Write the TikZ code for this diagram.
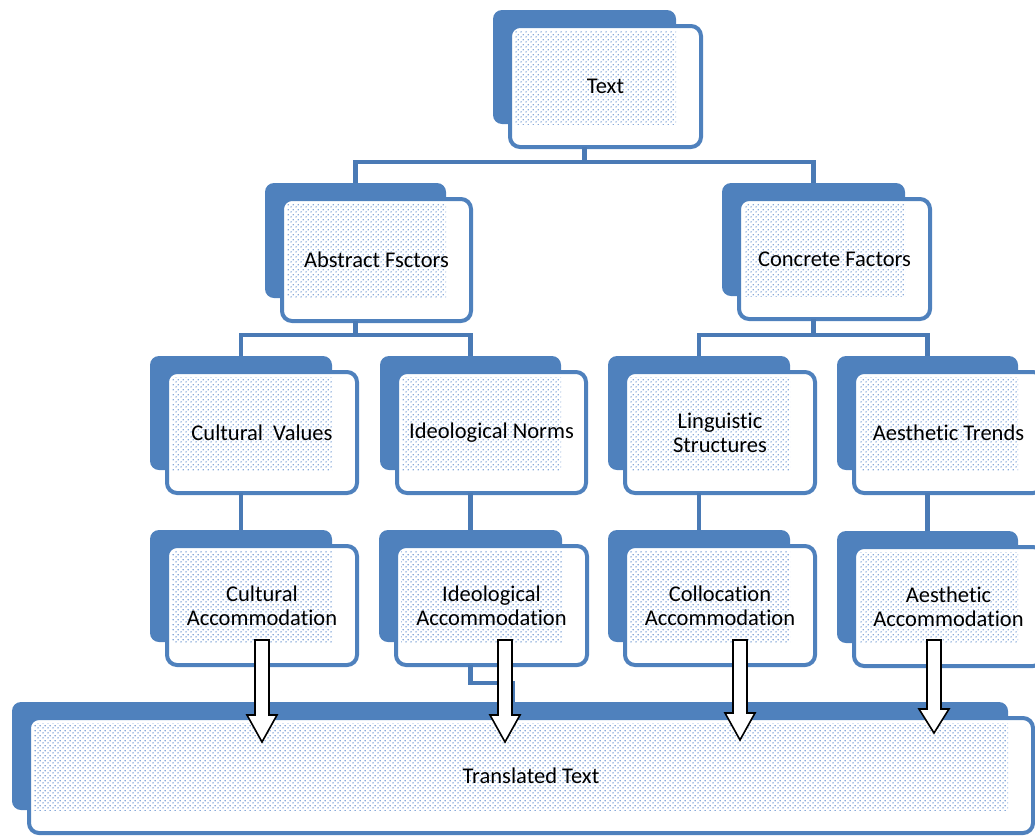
\documentclass[tikz,border=0pt]{standalone}
\usepackage{fontspec}
\setmainfont{Carlito}[Ligatures={NoCommon}]
\usetikzlibrary{patterns.meta}
\definecolor{backblue}{HTML}{4F81BD}
\definecolor{lineblue}{HTML}{4A7AB5}
\definecolor{dotblue}{RGB}{95,140,205}
\pgfdeclarepattern{
  name=sdots, type=uncolored,
  bottom left={\pgfpoint{0pt}{0pt}}, top right={\pgfpoint{4.6pt}{4.6pt}},
  tile size={\pgfpoint{4.6pt}{4.6pt}},
  code={\pgfpathcircle{\pgfpoint{1.15pt}{1.15pt}}{0.8pt}\pgfpathcircle{\pgfpoint{3.45pt}{3.45pt}}{0.8pt}\pgfusepath{fill}}
}
\tikzset{
  backbox/.style={fill=backblue, rounded corners=9pt, inner sep=0pt, outer sep=0pt},
  frontbox/.style={draw=backblue, line width=4pt, rounded corners=10pt, inner sep=0pt, outer sep=0pt, align=center, font=\fontsize{22.5}{24}\selectfont},
  conn/.style={draw=lineblue, line width=4.4pt},
  hollow/.style={draw=black, line width=1.6pt, fill=white, line join=miter}
}
% #1 name, #2 back left, #3 back top, #4 back right, #5 back bottom, #6 text
\newcommand\mkbox[6]{%
  \node[backbox, minimum width={#4-#2}, minimum height={#5-#3}] (#1b) at ({(#2+#4)/2},{(#3+#5)/2}) {};
  \fill[white, rounded corners=10pt] (#2+17,#3+16) rectangle (#4+25,#5+23);
  \fill[pattern=sdots, pattern color=dotblue] (#2+22,#3+21) rectangle (#4,#5);
  \node[frontbox, minimum width={#4-#2+8}, minimum height={#5-#3+7}] (#1) at ({(#2+#4)/2+21},{(#3+#5)/2+19.5}) {#6};
}
% #1 x centre, #2 top, #3 tip, #4 head length
\newcommand\blockarrow[4]{%
  \draw[hollow] (#1-7,#2) -- (#1+7,#2) -- (#1+7,#3-#4) -- (#1+15,#3-#4) -- (#1,#3) -- (#1-15,#3-#4) -- (#1-7,#3-#4) -- cycle;
}
\begin{document}
\begin{tikzpicture}[x=1pt,y=-1pt]
\useasboundingbox (0,0) rectangle (1035,836);
\clip (0,0) rectangle (1035,836);

\mkbox{text}{493}{10}{676}{124}{Text}
\mkbox{abs}{265}{183}{446}{298}{Abstract Fsctors}
\mkbox{con}{722}{183}{905}{296}{Concrete Factors}

\draw[conn] (textb.center |- text.south) -- ++(0,15) coordinate (j1) -| (absb.north);
\draw[conn] (j1) -| (conb.north);

\mkbox{cv}{150}{356}{332}{470}{Cultural\ \ Values}
\mkbox{ino}{380}{356}{561}{470}{Ideological Norms}
\mkbox{ls}{608}{356}{790}{470}{Linguistic\\Structures}
\mkbox{at}{837}{356}{1018}{470}{Aesthetic Trends}

\draw[conn] (absb.center |- abs.south) -- ++(0,14) coordinate (j2) -| (cvb.north);
\draw[conn] (j2) -| (inob.north);
\draw[conn] (conb.center |- con.south) -- ++(0,16) coordinate (j3) -| (lsb.north);
\draw[conn] (j3) -| (atb.north);

\mkbox{ca}{150}{530}{332}{642}{Cultural\\Accommodation}
\mkbox{ia}{379}{530}{562}{642}{Ideological\\Accommodation}
\mkbox{cola}{608}{530}{790}{642}{Collocation\\Accommodation}
\mkbox{aa}{837}{531}{1018}{643}{Aesthetic\\Accommodation}

\draw[conn] (cvb.center |- cv.south) -- (cab.north);
\draw[conn] (inob.center |- ino.south) -- (iab.north);
\draw[conn] (lsb.center |- ls.south) -- (colab.north);
\draw[conn] (atb.center |- at.south) -- (aab.north);

\coordinate (k1) at ([xshift=42]iab.center |- ia.south);
\draw[conn] (iab.center |- ia.south) -- ++(0,18) -| ([yshift=-2]k1 |- 0,702);

\mkbox{tt}{12}{702}{1008}{810}{Translated Text}

\blockarrow{262}{640}{742}{27}
\blockarrow{505}{640}{742}{27}
\blockarrow{740}{640}{740}{27}
\blockarrow{934}{640}{733}{24}
\end{tikzpicture}
\end{document}
